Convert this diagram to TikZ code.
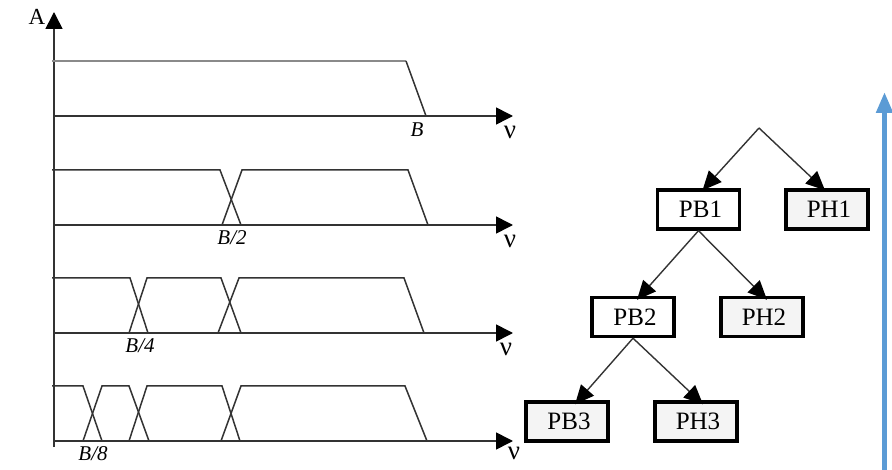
\documentclass[tikz,border=0pt]{standalone}
\usepackage{fontspec}
\setmainfont{Liberation Serif}
\usetikzlibrary{arrows.meta}
\definecolor{axisblue}{HTML}{5B9BD5}
\definecolor{boxfill}{HTML}{F4F4F4}
\definecolor{curve}{HTML}{333333}
\definecolor{lightcurve}{HTML}{8A8A8A}
\tikzset{
  axis/.style={line width=1.6pt, draw=curve, -{Triangle[length=17pt,width=17pt,fill=black,color=black]}},
  band/.style={line width=1.5pt, draw=curve, line join=miter},
  freq/.style={font=\fontsize{21}{24}\selectfont\itshape, inner sep=0pt},
  nu/.style={font=\fontsize{27}{30}\selectfont, inner sep=0pt},
  filt/.style={draw=black, line width=3.4pt, minimum width=82pt, minimum height=39pt,
    inner sep=0pt, font=\fontsize{25}{29}\selectfont},
  lowpass/.style={filt, fill=white},
  highpass/.style={filt, fill=boxfill},
  split/.style={line width=1.4pt, draw=curve, -{Triangle[length=19pt,width=17pt,fill=black,color=black]}}
}
\begin{document}
\begin{tikzpicture}[x=1pt,y=-1pt]
\useasboundingbox (0,0) rectangle (892,470);

% amplitude axis
\coordinate (origin) at (54,447);
\coordinate (atop) at (54,12);
\draw[axis] (origin) -- (atop);
\node[font=\fontsize{23}{26}\selectfont, inner sep=0pt] (alabel) at (37,17) {A};

% frequency axes
\foreach \row/\y in {1/116,2/225,3/333,4/441}{
  \coordinate (f\row) at (54,\y);
  \coordinate (e\row) at (513,\y);
  \draw[axis] (f\row) -- (e\row);
}
\node[nu] (nu1) at (510,132) {ν};
\node[nu] (nu2) at (510,241) {ν};
\node[nu] (nu3) at (506,349) {ν};
\node[nu] (nu4) at (514,453) {ν};

% level 0: full band
\draw[line width=1.5pt, draw=lightcurve] (52,61) -- (406,61);
\draw[band] (406,61) -- (426,116);
\node[freq] (b1) at (417,130) {B};

% level 1: two half bands
\draw[band] (52,170) -- (220,170) -- (241,225);
\draw[band] (222,225) -- (242,170) -- (408,170) -- (428,225);
\node[freq] (b2) at (232,238) {B/2};

% level 2
\draw[band] (52,278) -- (130,278) -- (148,333);
\draw[band] (129,333) -- (147,278) -- (221,278) -- (241,333);
\draw[band] (218,333) -- (239,278) -- (404,278) -- (424,333);
\node[freq] (b4) at (140,346) {B/4};

% level 3
\draw[band] (52,386) -- (83,386) -- (102,441);
\draw[band] (83,441) -- (102,386) -- (129,386) -- (149,441);
\draw[band] (129,441) -- (147,386) -- (222,386) -- (240,441);
\draw[band] (221,441) -- (241,386) -- (405,386) -- (427,441);
\node[freq] (b8) at (93,454) {B/8};

% filter bank tree
\coordinate (root) at (759,128);
\node[lowpass]  (pb1) at (698.5,209.5) {\hspace*{4pt}PB1};
\node[highpass] (ph1) at (827,209.5) {\hspace*{4pt}PH1};
\node[lowpass]  (pb2) at (633,317) {\hspace*{4pt}PB2};
\node[highpass] (ph2) at (762,317) {\hspace*{4pt}PH2};
\node[highpass] (pb3) at (567,421.5) {\hspace*{4pt}PB3};
\node[highpass] (ph3) at (696,421.5) {\hspace*{4pt}PH3};

\draw[split] (root) -- ([xshift=4pt,yshift=-2pt]pb1.north);
\draw[split] (root) -- ([xshift=-2pt,yshift=-2pt]ph1.north);
\draw[split] (pb1.south) -- ([xshift=4pt,yshift=-4pt]pb2.north);
\draw[split] (pb1.south) -- ([xshift=5pt,yshift=-4pt]ph2.north);
\draw[split] (pb2.south) -- ([xshift=8pt,yshift=-4pt]pb3.north);
\draw[split] (pb2.south) -- ([xshift=7pt,yshift=-4pt]ph3.north);

% decomposition direction
\coordinate (dbottom) at (884.5,472);
\coordinate (dtop) at (884.5,92);
\draw[axisblue, line width=5pt, -{Triangle[length=21pt,width=16pt]}] (dbottom) -- (dtop);
\end{tikzpicture}
\end{document}
